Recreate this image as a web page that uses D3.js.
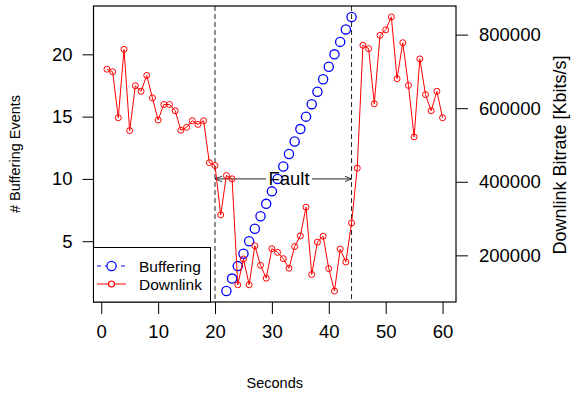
<!DOCTYPE html>
<html lang="en">
<head>
<meta charset="UTF-8">
<title>Buffering vs Downlink</title>
<style>
  body { margin: 0; background: #fff; }
  text { font-family: "Liberation Sans", Arial, sans-serif; }
</style>
</head>
<body>
<div id="chart"></div>
<script src="https://d3js.org/d3.v7.min.js"></script>
<script>
// seconds for downlink samples
var seconds = [1,2,3,4,5,6,7,8,9,10,11,12,13,14,15,16,17,18,19,20,
  21,22,23,24,25,26,27,28,29,30,31,32,33,34,35,36,37,38,39,40,
  41,42,43,44,45,46,47,48,49,50,51,52,53,54,55,56,57,58,59,60];
// downlink bitrate (Kbits/s)
var downlink = [706000,699000,574000,760000,539000,661000,646000,689000,628000,568000,
  610000,610000,593000,540000,548000,566000,556000,566000,452000,444000,
  310000,417000,408000,120000,190000,120000,226000,173000,138000,218000,
  208000,191000,165000,224000,253000,331000,148000,236000,252000,164000,
  103000,217000,182000,288000,437000,771000,762000,612000,798000,813000,
  848000,680000,778000,662000,522000,734000,637000,593000,646000,574000];
// buffering events counter
var bufSeconds = [22,23,24,25,26,27,28,29,30,31,32,33,34,35,36,37,38,39,40,41,42,43,44];
var buffering = [1,2,3,4,5,6,7,8,9,10,11,12,13,14,15,16,17,18,19,20,21,22,23];
var xTicks = [0,10,20,30,40,50,60];
var leftTicks = [5,10,15,20];
var rightTicks = [200000,400000,600000,800000];
var faultStart = 20, faultEnd = 44;

var width = 571, height = 396;
var L = 93.5, R = 456, T = 6, B = 302;

var svg = d3.select("#chart").append("svg")
  .attr("width", width).attr("height", height);

// R-style 4% padding
function pad(ext) { var d = (ext[1] - ext[0]) * 0.04; return [ext[0] - d, ext[1] + d]; }

var x = d3.scaleLinear().domain(pad(d3.extent(seconds))).range([L, R]);
var yL = d3.scaleLinear().domain(pad(d3.extent(buffering))).range([B, T]);
var yR = d3.scaleLinear().domain(pad(d3.extent(downlink))).range([B, T]);

// fault markers
[faultStart, faultEnd].forEach(function(s) {
  svg.append("line")
    .attr("x1", x(s)).attr("x2", x(s)).attr("y1", T).attr("y2", B)
    .attr("stroke", "#222").attr("stroke-dasharray", "5,3");
});

var ay = yL(10);
svg.append("defs").append("marker")
  .attr("id", "arr").attr("viewBox", "0 0 10 10")
  .attr("refX", 10).attr("refY", 5)
  .attr("markerWidth", 7).attr("markerHeight", 7)
  .attr("markerUnits", "userSpaceOnUse")
  .attr("orient", "auto-start-reverse")
  .append("path").attr("d", "M0,1 L10,5 L0,9")
  .attr("fill", "none").attr("stroke", "#222").attr("stroke-width", 1.3);

svg.append("line")
  .attr("x1", x(faultStart)).attr("x2", x(faultEnd)).attr("y1", ay).attr("y2", ay)
  .attr("stroke", "#222")
  .attr("marker-start", "url(#arr)").attr("marker-end", "url(#arr)");

svg.append("rect")
  .attr("x", 266).attr("y", ay - 9).attr("width", 46).attr("height", 18)
  .attr("fill", "#fff");

// buffering points
svg.append("g").selectAll("circle")
  .data(bufSeconds)
  .enter().append("circle")
  .attr("cx", function(d) { return x(d); })
  .attr("cy", function(d, i) { return yL(buffering[i]); })
  .attr("r", 4.6)
  .attr("fill", "none").attr("stroke", "#0000ff").attr("stroke-width", 1.3);

// downlink line + points
var line = d3.line()
  .x(function(d, i) { return x(seconds[i]); })
  .y(function(d) { return yR(d); });

svg.append("path").datum(downlink)
  .attr("d", line).attr("fill", "none").attr("stroke", "#ff0000").attr("stroke-width", 1);

svg.append("g").selectAll("circle")
  .data(downlink)
  .enter().append("circle")
  .attr("cx", function(d, i) { return x(seconds[i]); })
  .attr("cy", function(d) { return yR(d); })
  .attr("r", 3)
  .attr("fill", "none").attr("stroke", "#ff0000").attr("stroke-width", 1);

svg.append("text")
  .attr("x", 289).attr("y", ay + 6.5)
  .attr("text-anchor", "middle").style("font-size", "18.5px")
  .text("Fault");

// axes
var xAxis = svg.append("g").attr("transform", "translate(0," + B + ")")
  .call(d3.axisBottom(x).tickValues(xTicks).tickSize(12).tickPadding(11).tickSizeOuter(0));
var lAxis = svg.append("g").attr("transform", "translate(" + L + ",0)")
  .call(d3.axisLeft(yL).tickValues(leftTicks).tickSize(11).tickPadding(10).tickSizeOuter(0));
var rAxis = svg.append("g").attr("transform", "translate(" + R + ",0)")
  .call(d3.axisRight(yR).tickValues(rightTicks).tickFormat(d3.format("d"))
    .tickSize(12).tickPadding(11).tickSizeOuter(0));

[xAxis, lAxis, rAxis].forEach(function(g) {
  g.select(".domain").remove();
  g.selectAll("text").style("font-size", "18.5px").attr("fill", "#000")
    .style("font-family", "'Liberation Sans', Arial, sans-serif");
  g.selectAll("line").attr("stroke", "#000");
});

// frame
svg.append("rect")
  .attr("x", L).attr("y", T).attr("width", R - L).attr("height", B - T)
  .attr("fill", "none").attr("stroke", "#000").attr("stroke-width", 1.2);

// legend
var lg = svg.append("g");
lg.append("rect")
  .attr("x", L).attr("y", 247.5).attr("width", 117).attr("height", B - 247.5)
  .attr("fill", "#fff").attr("stroke", "#000");
var items = [
  { label: "Buffering", color: "#0000ff", dash: "4,4", r: 4.6 },
  { label: "Downlink", color: "#ff0000", dash: null, r: 3 }
];
items.forEach(function(it, i) {
  var yy = 266 + i * 18;
  lg.append("line").attr("x1", 97).attr("x2", 126).attr("y1", yy).attr("y2", yy)
    .attr("stroke", it.color).attr("stroke-dasharray", it.dash);
  lg.append("circle").attr("cx", 111.5).attr("cy", yy).attr("r", it.r)
    .attr("fill", "#fff").attr("stroke", it.color).attr("stroke-width", 1.2);
  lg.append("text").attr("x", 139).attr("y", yy + 5.5)
    .style("font-size", "15.5px").text(it.label);
});

// titles
svg.append("text").attr("x", (L + R) / 2).attr("y", 388)
  .attr("text-anchor", "middle").style("font-size", "14.5px").text("Seconds");
svg.append("text")
  .attr("transform", "translate(20,154) rotate(-90)")
  .attr("text-anchor", "middle").style("font-size", "14.5px").text("# Buffering Events");
svg.append("text")
  .attr("transform", "translate(566,155) rotate(-90)")
  .attr("text-anchor", "middle").style("font-size", "18px").text("Downlink Bitrate [Kbits/s]");
</script>
</body>
</html>
